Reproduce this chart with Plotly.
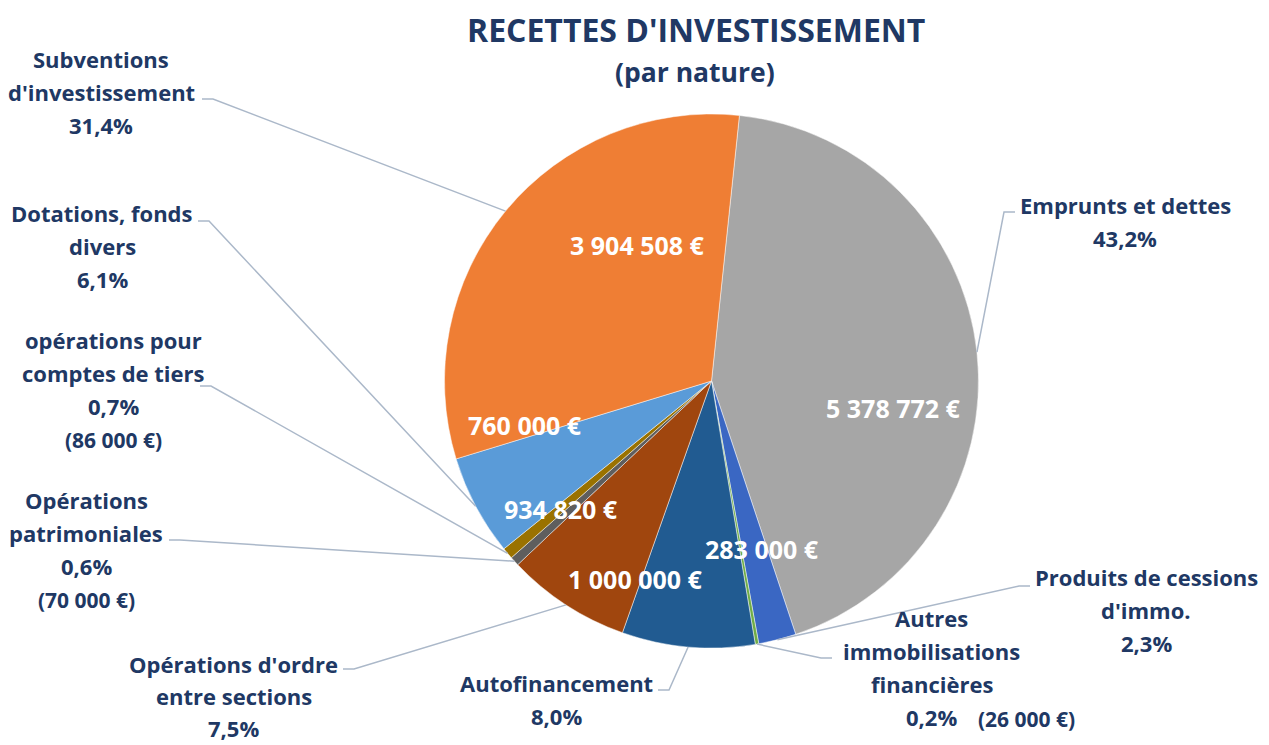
import math
import plotly.graph_objects as go

W, H = 1269, 745

# data, clockwise from the top
categories = ["Emprunts et dettes", "Produits de cessions d'immo.",
              "Autres immobilisations financières", "Autofinancement",
              "Opérations d'ordre entre sections", "Opérations patrimoniales",
              "opérations pour comptes de tiers", "Dotations, fonds divers",
              "Subventions d'investissement"]
values = [5378772, 283000, 26000, 1000000, 934820, 70000, 86000, 760000, 3904508]
colors = ["#A6A6A6", "#3A67C3", "#70AD47", "#215B91", "#A0460E",
          "#5E5E5E", "#9A7200", "#5A9BD8", "#EF7E34"]

# how each outside label is broken into lines
label_lines = [["Emprunts et dettes"], ["Produits de cessions", "d'immo."],
               ["Autres", "immobilisations", "financières"], ["Autofinancement"],
               ["Opérations d'ordre", "entre sections"], ["Opérations", "patrimoniales"],
               ["opérations pour", "comptes de tiers"], ["Dotations, fonds", "divers"],
               ["Subventions", "d'investissement"]]
# amounts shown in brackets under the small slices
show_amount = [False, False, True, False, False, True, True, False, False]
# amounts written on the pie itself
show_inside = [True, True, False, True, True, False, False, True, True]

NAVY = "#203864"
FONT = "Open Sans"
rotation = 6
cx, cy, r = 711.5, 381, 267


def px(x):
    return x / W


def py(y):
    return 1 - y / H


def eur(v):
    return f"{v:,}".replace(",", " ") + " €"


total = sum(values)
pcts = [f"{100 * v / total:.1f}".replace(".", ",") + "%" for v in values]

fig = go.Figure(go.Pie(
    labels=categories, values=values, sort=False, direction="clockwise",
    rotation=rotation, textinfo="none", hoverinfo="label+value+percent",
    marker=dict(colors=colors, line=dict(color="rgba(255,255,255,0.6)", width=0.8)),
    domain=dict(x=[px(cx - r), px(cx + r)], y=[py(cy + r), py(cy - r)]),
    showlegend=False,
))

# edge point of each slice (middle angle) for the leader lines
edge = []
cum = 0
for v in values:
    a = math.radians(rotation + 360 * (cum + v / 2) / total)
    edge.append((cx + r * math.sin(a), cy - r * math.cos(a)))
    cum += v

# label block: centre x, first line y, leader start (x, y), elbow direction
label_pos = [
    (1125, 205, (1015, 212), -1),
    (1146, 577, (1030, 586), -1),
    (932, 618, (832, 658), -1),
    (556, 683, (658, 690), 1),
    (234, 664, (343, 669), 1),
    (86, 500, (169, 540), 1),
    (113, 340, (200, 386), 1),
    (102, 213, (198, 221), 1),
    (101, 59, (202, 99), 1),
]
# where the amounts sit on the pie
value_pos = [(893, 408), (762, 549), None, (636, 579), (561, 509),
             None, None, (525, 425), (638, 245)]

STEP = 33
ann = []
shapes = []


def text(x, y, t, size, color=NAVY):
    ann.append(dict(x=px(x), y=py(y), xref="paper", yref="paper",
                    text="<b>" + t + "</b>", showarrow=False,
                    xanchor="center", yanchor="middle",
                    font=dict(family=FONT, size=size, color=color)))


for i, (x0, y0, (lx, ly), d) in enumerate(label_pos):
    lines = label_lines[i] + [pcts[i]]
    step = STEP if i != 4 else 32
    for k, t in enumerate(lines):
        text(x0, y0 + k * step, t, 22)
    if show_amount[i]:
        n = len(lines)
        if i == 2:
            text(x0 + 94, y0 + (n - 1) * STEP + 2, "(" + eur(values[i]) + ")", 21)
        else:
            text(x0, y0 + n * STEP + 1, "(" + eur(values[i]) + ")", 21)
    ex, ey = edge[i]
    path = f"M {px(lx)} {py(ly)} L {px(lx + d * 11)} {py(ly)} L {px(ex)} {py(ey)}"
    shapes.append(dict(type="path", xref="paper", yref="paper", path=path,
                       line=dict(color="#ABB8C9", width=1.5)))

for i, v in enumerate(values):
    if show_inside[i]:
        text(value_pos[i][0], value_pos[i][1], eur(v), 25, "white")

text(696, 30, "RECETTES D'INVESTISSEMENT", 32)
text(695, 72, "(par nature)", 26.5)

fig.update_layout(
    width=W, height=H, margin=dict(l=0, r=0, t=0, b=0),
    paper_bgcolor="white", plot_bgcolor="white",
    annotations=ann, shapes=shapes,
)

# drop the default page margin so the chart fills the window
fig.write_html("out.html", config={"displayModeBar": False},
               post_script="document.body.style.margin='0px';")
